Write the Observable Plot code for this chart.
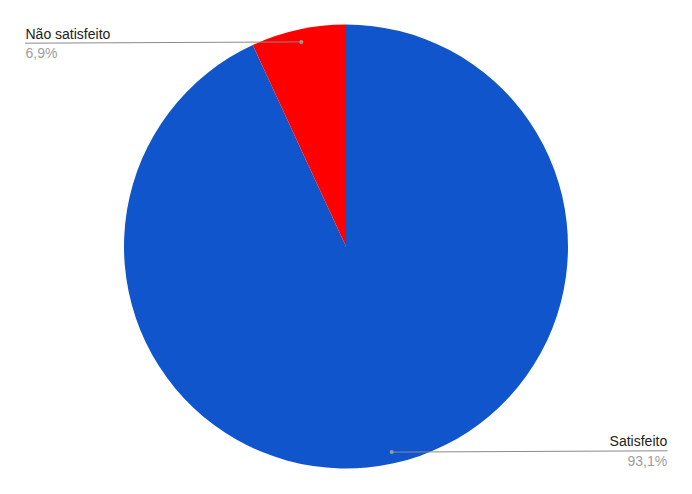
<!DOCTYPE html>
<html>
<head>
<meta charset="utf-8">
<script src="https://cdn.jsdelivr.net/npm/d3@7"></script>
<script src="https://cdn.jsdelivr.net/npm/@observablehq/plot@0.6"></script>
<style>
  html, body { margin: 0; padding: 0; background: #fff; }
  #chart svg { display: block; }
</style>
</head>
<body>
<div id="chart"></div>
<script>
// Data
const categories = ["Satisfeito", "Não satisfeito"];
const values = [93.1, 6.9];
const valueLabels = ["93,1%", "6,9%"];
const colors = ["#1155cc", "#ff0000"];

// Layout (pixels)
const W = 692, H = 494;
const CX = 346, CY = 246.5, R = 222;

// data units: radius = 1, centered at 0
const x0 = -CX / R, x1 = (W - CX) / R;
const y0 = -(H - CY) / R, y1 = CY / R;

const pie = d3.pie().sort(null).value(d => d.value).startAngle(0).endAngle(2 * Math.PI);
const rows = categories.map((c, i) => ({category: c, value: values[i], label: valueLabels[i], color: colors[i]}));
const arcs = pie(rows);

// Leader dot positions (at 0.946 radius, mid-angle)
const leaders = arcs.map(a => {
  const mid = (a.startAngle + a.endAngle) / 2;
  return {
    category: a.data.category,
    label: a.data.label,
    dx: 0.946 * Math.sin(mid),
    dy: 0.946 * Math.cos(mid),
    right: Math.sin(mid) > 0
  };
});
// label anchor positions (layout)
const anchorX = lead => lead.right ? (666.7 - CX) / R : (25 - CX) / R;
const anchorY = lead => lead.right ? (CY - 450.3) / R : (CY - 42.7) / R;
const nameY = lead => lead.right ? (CY - 445.5) / R : (CY - 38) / R;
const pctY = lead => lead.right ? (CY - 465) / R : (CY - 57.5) / R;

const lineData = leaders.flatMap(l => [
  {k: l.category, x: l.dx, y: l.dy},
  {k: l.category, x: anchorX(l), y: anchorY(l)}
]);

const rightL = leaders.filter(l => l.right);
const leftL = leaders.filter(l => !l.right);

function pieMark(index, scales, values, dimensions) {
  const cx = scales.x(0), cy = scales.y(0);
  const rad = scales.x(1) - scales.x(0);
  const arc = d3.arc().innerRadius(0).outerRadius(rad);
  const g = d3.create("svg:g").attr("transform", `translate(${cx},${cy})`);
  g.selectAll("path").data(arcs).join("path")
    .attr("d", arc)
    .attr("fill", d => d.data.color);
  return g.node();
}

const textMarks = (data, anchor) => [
  Plot.text(data, {
    x: anchorX, y: nameY, text: "category",
    textAnchor: anchor, lineAnchor: "bottom", fontSize: 14, fill: "#222222"
  }),
  Plot.text(data, {
    x: anchorX, y: pctY, text: "label",
    textAnchor: anchor, lineAnchor: "bottom", fontSize: 14, fill: "#9e9e9e"
  })
];

const chart = Plot.plot({
  width: W,
  height: H,
  margin: 0,
  style: {fontFamily: "'Liberation Sans', Arial, sans-serif", background: "#fff"},
  x: {domain: [x0, x1], axis: null},
  y: {domain: [y0, y1], axis: null},
  marks: [
    pieMark,
    Plot.line(lineData, {x: "x", y: "y", z: "k", stroke: "#8a8a8a", strokeWidth: 1}),
    Plot.dot(leaders, {x: "dx", y: "dy", r: 2, fill: "#999999", stroke: null}),
    ...textMarks(rightL, "end"),
    ...textMarks(leftL, "start")
  ]
});
document.getElementById("chart").append(chart);
</script>
</body>
</html>
